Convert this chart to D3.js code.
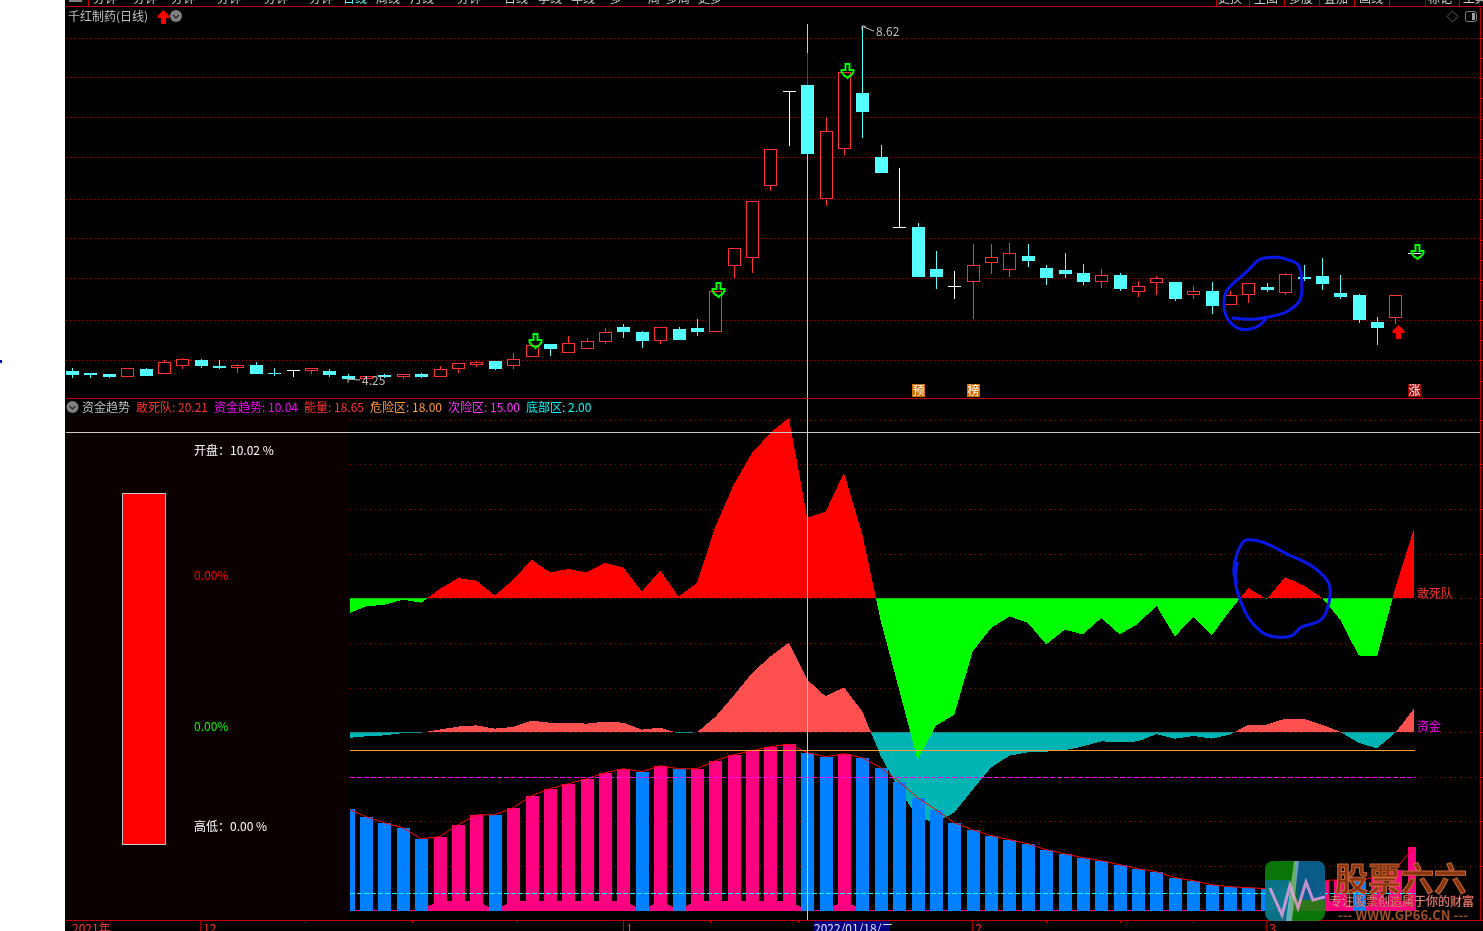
<!DOCTYPE html>
<html>
<head>
<meta charset="utf-8">
<title>千红制药(日线)</title>
<script src="https://cdn.jsdelivr.net/npm/d3@7"></script>
<style>
    html, body { margin: 0; padding: 0; background: #fff; overflow: hidden; }
    svg { display: block; }
    text { font-family: "Noto Sans CJK SC", "Noto Sans", sans-serif; font-size: 12px; }
    .wick { mix-blend-mode: difference; }
</style>
</head>
<body>
<div id="chart"></div>
<script>
// Daily candles (index 0 is the leftmost candle)
const opens = [4.38,4.35,4.34,4.32,4.40,4.35,4.45,4.52,4.44,4.43,4.45,4.36,4.39,4.39,4.38,4.32,4.29,4.33,4.32,4.34,
    4.32,4.42,4.47,4.50,4.45,4.56,4.71,4.61,4.66,4.75,4.92,4.86,4.76,4.90,4.91,4.87,5.68,5.78,6.67,7.82,
    7.90,6.51,7.12,7.80,7.01,6.15,6.15,5.63,5.42,5.49,5.72,5.63,5.79,5.65,5.62,5.58,5.49,5.56,5.36,5.47,
    5.47,5.33,5.36,5.20,5.33,5.41,5.35,5.54,5.55,5.34,5.31,4.98,5.04,5.83];
const closes = [4.34,4.34,4.32,4.42,4.33,4.49,4.53,4.45,4.43,4.45,4.35,4.35,4.39,4.42,4.34,4.29,4.32,4.32,4.34,4.32,
    4.40,4.48,4.49,4.42,4.53,4.70,4.66,4.72,4.75,4.86,4.87,4.76,4.92,4.77,4.87,5.36,5.89,6.47,7.11,7.82,
    7.06,7.33,8.06,7.58,6.83,6.15,5.55,5.55,5.42,5.68,5.78,5.83,5.74,5.54,5.58,5.49,5.56,5.40,5.42,5.52,
    5.28,5.36,5.19,5.31,5.46,5.39,5.57,5.52,5.46,5.30,5.02,4.92,5.31,5.83];
const highs = [4.42,4.35,4.34,4.42,4.42,4.52,4.54,4.53,4.52,4.47,4.49,4.42,4.39,4.42,4.40,4.34,4.32,4.34,4.34,4.35,
    4.44,4.48,4.50,4.50,4.60,4.70,4.71,4.81,4.78,4.91,4.96,4.87,4.92,4.92,5.02,5.36,5.89,6.47,7.11,7.82,
    8.29,7.49,8.06,8.62,7.16,6.88,6.20,5.86,5.61,5.94,5.94,5.95,5.94,5.68,5.83,5.70,5.63,5.58,5.49,5.55,
    5.47,5.42,5.47,5.36,5.46,5.46,5.58,5.68,5.77,5.56,5.33,5.04,5.31,5.83];
const lows = [4.31,4.31,4.31,4.32,4.33,4.35,4.42,4.43,4.42,4.37,4.35,4.33,4.32,4.35,4.32,4.28,4.25,4.31,4.29,4.31,
    4.32,4.37,4.44,4.40,4.42,4.56,4.58,4.61,4.66,4.72,4.80,4.67,4.72,4.77,4.82,4.87,5.54,5.60,6.61,7.16,
    7.06,6.42,7.05,7.26,6.83,6.15,5.55,5.40,5.28,5.03,5.58,5.55,5.67,5.45,5.54,5.45,5.41,5.38,5.30,5.33,
    5.25,5.28,5.09,5.20,5.23,5.36,5.33,5.50,5.39,5.28,4.98,4.71,4.97,5.83];

// Price gridlines
const priceGrid = [8.48,7.99,7.50,7.01,6.50,6.01,5.52,5.01,4.51];

// Signals on the candle pane: [candle index], [price at the arrow tip]
const sellIdx = [25,35,42,73];
const sellPrice = [4.66,5.29,7.98,5.76];
const buyIdx = [72];
const buyPrice = [4.95];

// Small tags just above the lower edge of the candle pane
const tagIdx = [46,49,73];
const tagText = ["预","榜","涨"];

// Indicator series start at candle 15 and run to the last one
const firstIndicatorIdx = 15;
const deathSquad = [-1.74,-0.92,-0.73,-0.17,-0.50,1.03,2.26,1.96,0.31,2.07,4.31,2.89,3.27,2.89,3.94,3.42,0.76,3.08,0.20,1.70,
    8.01,12.71,16.29,18.53,20.21,9.01,9.69,14.05,7.11,-2.52,-10.25,-18.09,-14.28,-13.05,-5.96,-3.34,-2.04,-2.74,-5.17,-3.53,
    -4.05,-2.22,-4.05,-2.86,-0.84,-4.28,-2.11,-4.17,-1.40,1.14,-0.11,2.37,1.43,0.06,-2.41,-6.41,-6.52,1.18,7.75];
const fundTrend = [-0.65,-0.47,-0.36,-0.10,-0.06,0.28,0.62,0.76,0.39,0.58,1.29,1.06,1.06,0.95,1.18,1.06,0.28,0.50,-0.13,-0.02,
    1.70,4.09,6.63,8.49,10.04,5.88,4.01,5.02,2.30,-2.70,-6.44,-9.57,-10.13,-9.00,-6.44,-3.98,-2.63,-2.26,-2.18,-2.04,
    -1.59,-1.03,-1.14,-1.03,-0.22,-0.73,-0.43,-0.73,-0.28,0.84,0.84,1.51,1.51,0.84,0.02,-1.21,-1.81,-0.06,2.60];
const energy = [11.42,10.53,9.85,9.29,8.06,8.29,9.63,10.75,10.75,11.53,12.88,13.66,14.22,14.78,15.45,15.90,15.57,16.24,15.90,15.90,
    16.80,17.47,17.92,18.37,18.65,17.69,17.25,17.58,17.13,16.01,14.45,12.65,11.31,9.85,9.07,8.40,7.95,7.50,6.83,6.38,
    5.94,5.60,5.15,4.70,4.37,3.70,3.36,2.91,2.69,2.58,2.46,2.41,2.91,3.36,3.47,3.36,3.81,4.59,7.17];
// Low band along the foot of the bars: high under the pink bars, almost nothing under the blue ones
const energyBand = [0.1,0.1,0.1,0.1,0.1,1.1,1.1,1.1,0.1,1.1,1.1,1.1,1.1,1.1,1.1,1.1,0.1,1.1,0.1,1.1,
    1.1,1.1,1.1,1.1,1.1,0.1,0.1,1.1,0.1,0.1,0.1,0.1,0.1,0.1,0.1,0.1,0.1,0.1,0.1,0.1,
    0.1,0.1,0.1,0.1,0.1,0.1,0.1,0.1,0.1,0.1,0.1,0.1,1.1,1.1,1.1,0.1,1.1,1.1,1.1];

// Zero lines of the two upper indicators, in indicator units
const deathBase = 35;
const fundBase = 20;
const levelDanger = 18;
const levelNext = 15;
const levelBottom = 2;
const indicatorGrid = [5,10,15,20,25,30,35,40,45,50,55];

// Time axis
const monthIdx = [7,30,49,65];
const monthText = ["12","1","2","3"];
const weekIdx = [12.7,18.5,24.2,34.7,39.5,53,57,61];
const cursorIdx = 40;

// Header texts
const headerItems = [
    ["敢死队: 20.21", "#ff3232", 136],
    ["资金趋势: 10.04", "#ff00ff", 214],
    ["能量: 18.65", "#ff3232", 304],
    ["危险区: 18.00", "#ff9a32", 370],
    ["次险区: 15.00", "#ff32ff", 448],
    ["底部区: 2.00", "#00ffff", 526]
];
const toolbarLeft = [["分钟",105],["分钟",145],["分钟",183],["分钟",229],["分钟",276],["分钟",321],["日线",355,"#54ffff"],["周线",388],["月线",422],["分钟",469],["日线",516],["季线",550],["年线",583],["多",616],["周",654],["多周",678],["更多",710]];
const toolbarRight = [["更换",1230],["主图",1266],["多股",1301],["叠加",1336],["画线",1371],["标记",1440],["工具",1475]];
const toolbarSeparators = [88,1216,1249,1284,1319,1354,1389,1425,1459];

// Hand drawn circles on top of the chart
const circleTop = [[1231.7,318],[1253.3,319.3],[1266.7,317.3],[1286.7,311.7],[1300,300],[1301.7,280],[1298.3,265],[1286.7,259.3],[1276.7,257.3],[1260,259.3],[1246.7,271.7],[1226.7,290.7],[1224,303.3],[1226.7,317.3],[1238.3,328.3],[1248.3,329.3],[1258.3,326],[1266.7,318.3]];
const circleBottom = [[1237.4,561.7],[1235.4,581.7],[1241.4,603.3],[1251.3,621.7],[1267.2,635],[1291,636],[1301,627.3],[1320.9,620],[1328.8,603.3],[1328.8,583.3],[1312.9,566.7],[1289,555],[1261.3,541.7],[1244.6,540.7],[1236.6,555],[1234,573.3],[1237.4,583.3]];

const RED = "#ff3232", CYAN = "#54ffff", WHITE = "#ffffff", LINE_RED = "#c00000";

const svg = d3.select("#chart").append("svg").attr("width", 1483).attr("height", 931);

// Scales. Both panes share the candle index on x
const x = d3.scaleLinear().domain([0, 73]).range([72, 1413.8]);
const yPrice = d3.scaleLinear().domain([4.25, 8.62]).range([381.5, 26.2]);
const yInd = d3.scaleLinear().domain([0, 18]).range([910.7, 750]);
const px = i => Math.round(x(i));
const indX = (d, i) => x(i + firstIndicatorIdx);

// Background
svg.append("rect").attr("x", 65).attr("y", 0).attr("width", 1418).attr("height", 931).attr("fill", "#000");
svg.append("rect").attr("x", 0).attr("y", 360).attr("width", 2).attr("height", 3).attr("fill", "#0000c0");

// Clip regions for the indicator pane
const defs = svg.append("defs");
function addClip(id, y0, y1) {
    defs.append("clipPath").attr("id", id).append("rect")
        .attr("x", 350).attr("y", y0).attr("width", 1130 - 64).attr("height", y1 - y0);
}
addClip("pane", 400, 920);
addClip("deathUp", 400, yInd(deathBase));
addClip("deathDown", yInd(deathBase), 920);
addClip("fundUp", 400, yInd(fundBase));
addClip("fundDown", yInd(fundBase), 920);

// Price gridlines
svg.append("g").selectAll("line").data(priceGrid).enter().append("line")
    .attr("x1", 66).attr("x2", 1480)
    .attr("y1", d => Math.round(yPrice(d)) + 0.5).attr("y2", d => Math.round(yPrice(d)) + 0.5)
    .attr("stroke", "#a00000").attr("stroke-dasharray", "1 3");

// Indicator pane: dark side panel and gridlines
svg.append("rect").attr("x", 66).attr("y", 414).attr("width", 284).attr("height", 506).attr("fill", "#0b0000");
svg.append("g").selectAll("line").data(indicatorGrid).enter().append("line")
    .attr("x1", 350).attr("x2", 1480)
    .attr("y1", d => Math.round(yInd(d)) + 0.5).attr("y2", d => Math.round(yInd(d)) + 0.5)
    .attr("stroke", "#a00000").attr("stroke-dasharray", "1 4");

// Filled areas, one colour above the zero line and another below it
function splitArea(values, base, colorUp, colorDown, clipUp, clipDown) {
    const area = d3.area()
        .x(indX)
        .y0(yInd(base))
        .y1(d => yInd(d + base));
    svg.append("path").attr("d", area(values)).attr("fill", colorUp)
        .attr("clip-path", `url(#${clipUp})`).attr("shape-rendering", "crispEdges");
    svg.append("path").attr("d", area(values)).attr("fill", colorDown)
        .attr("clip-path", `url(#${clipDown})`).attr("shape-rendering", "crispEdges");
}
splitArea(fundTrend, fundBase, "#ff5050", "#00b4b4", "fundUp", "fundDown");
splitArea(deathSquad, deathBase, "#ff0000", "#00ff00", "deathUp", "deathDown");

// Energy: band, bars and the line over their tops
const barsG = svg.append("g").attr("clip-path", "url(#pane)");
const bandArea = d3.area().x(indX).y0(yInd(0)).y1(d => yInd(d));
barsG.append("path").attr("d", bandArea(energyBand)).attr("fill", "#ff0080").attr("shape-rendering", "crispEdges");
barsG.selectAll("rect").data(energy).enter().append("rect")
    .attr("x", (d, i) => px(i + firstIndicatorIdx) - 6)
    .attr("y", d => Math.round(yInd(d)))
    .attr("width", 13)
    .attr("height", d => Math.round(yInd(0)) - Math.round(yInd(d)))
    .attr("fill", (d, i) => energyBand[i] > 1 ? "#ff0080" : "#0080ff");
barsG.append("path")
    .attr("d", d3.line().x(indX).y(d => yInd(d))(energy))
    .attr("fill", "none").attr("stroke", "#ff0000").attr("stroke-width", 1);

// Level lines
function levelLine(value, color, dash) {
    svg.append("line").attr("x1", 350).attr("x2", 1415)
        .attr("y1", Math.round(yInd(value)) + 0.5).attr("y2", Math.round(yInd(value)) + 0.5)
        .attr("stroke", color).attr("stroke-dasharray", dash);
}
levelLine(levelDanger, "#ff9a32", null);
levelLine(levelNext, "#ff00ff", "5 2");
levelLine(levelBottom, "#00ffff", "5 2");

// Series names at the right end of the areas
svg.append("text").attr("x", 1417).attr("y", yInd(deathBase) - 0.5).attr("fill", RED).text("敢死队");
svg.append("text").attr("x", 1417).attr("y", yInd(fundBase) - 1).attr("fill", "#ff00ff").text("资金");

// Crosshair
svg.append("line").attr("x1", px(cursorIdx) + 0.5).attr("x2", px(cursorIdx) + 0.5).attr("y1", 24).attr("y2", 920)
    .attr("stroke", "#c8c8c8");
svg.append("line").attr("x1", 66).attr("x2", 1480).attr("y1", 432.5).attr("y2", 432.5).attr("stroke", "#c8c8c8");

// Candles
const candleData = opens.map((o, i) => ({ i, o, c: closes[i], h: highs[i], l: lows[i] }));
const candleColor = d => d.c > d.o ? RED : d.c < d.o ? CYAN : WHITE;
const candles = svg.append("g").selectAll("g").data(candleData).enter().append("g");
candles.append("line").attr("class", "wick")
    .attr("x1", d => px(d.i) + 0.5).attr("x2", d => px(d.i) + 0.5)
    .attr("y1", d => Math.round(yPrice(d.h))).attr("y2", d => Math.round(yPrice(d.l)) + 1)
    .attr("stroke", candleColor);
candles.filter(d => d.c > d.o).append("rect")
    .attr("x", d => px(d.i) - 5.5).attr("width", 12)
    .attr("y", d => Math.round(yPrice(d.c)) + 0.5)
    .attr("height", d => Math.round(yPrice(d.o)) - Math.round(yPrice(d.c)))
    .attr("fill", "#000").attr("stroke", RED);
candles.filter(d => d.c < d.o).append("rect")
    .attr("x", d => px(d.i) - 6).attr("width", 13)
    .attr("y", d => Math.round(yPrice(d.o)))
    .attr("height", d => Math.max(1, Math.round(yPrice(d.c)) - Math.round(yPrice(d.o)) + 1))
    .attr("fill", CYAN);
candles.filter(d => d.c === d.o).append("line")
    .attr("x1", d => px(d.i) - 6).attr("x2", d => px(d.i) + 7)
    .attr("y1", d => Math.round(yPrice(d.o)) + 0.5).attr("y2", d => Math.round(yPrice(d.o)) + 0.5)
    .attr("stroke", WHITE);

// Signal arrows
const sellArrow = "M0,0 L-2,-2 L-3,-2 L-6,-6 L-6,-8 L-2,-8 L-2,-14 L2,-14 L2,-8 L6,-8 L6,-6 L3,-2 L2,-2 Z";
const buyArrow = "M0,0 L6,6 L6,8 L2.5,8 L2.5,14 L-2.5,14 L-2.5,8 L-6,8 L-6,6 Z";
svg.append("g").selectAll("path").data(sellIdx).enter().append("path")
    .attr("transform", (d, k) => `translate(${px(d) + 3.5},${Math.round(yPrice(sellPrice[k]))})`)
    .attr("d", sellArrow).attr("fill", "none").attr("stroke", "#00ff00").attr("stroke-width", 2);
svg.append("g").selectAll("path").data(buyIdx).enter().append("path")
    .attr("transform", (d, k) => `translate(${px(d) + 3.5},${Math.round(yPrice(buyPrice[k]))})`)
    .attr("d", buyArrow).attr("fill", "#ff0000");

// High and low labels
function extremeLabel(idx, price, text, dy) {
    const tipX = px(idx), tipY = yPrice(price);
    svg.append("path")
        .attr("d", `M${tipX},${tipY} l12,${dy} M${tipX},${tipY} l4,0 M${tipX},${tipY} l0,4`)
        .attr("fill", "none").attr("stroke", "#c0c0c0");
    svg.append("text").attr("x", tipX + 14).attr("y", tipY + dy + 5).attr("fill", "#c0c0c0").text(text);
}
extremeLabel(43, 8.62, "8.62", 5);
extremeLabel(15, 4.28, "4.25", 1);

// Tags
const tags = svg.append("g").selectAll("g").data(tagIdx).enter().append("g");
tags.append("rect")
    .attr("x", d => px(d) - 6).attr("y", 384).attr("width", 13).attr("height", 13)
    .attr("fill", d => d === 73 ? "#a00000" : "#d07000");
tags.append("text")
    .attr("x", d => px(d) + 0.5).attr("y", 395).attr("text-anchor", "middle")
    .attr("fill", "#fff").text((d, k) => tagText[k]);

// Hand drawn circles
const circleLine = d3.line().curve(d3.curveCatmullRom);
[circleTop, circleBottom].forEach(points => {
    svg.append("path").attr("d", circleLine(points))
        .attr("fill", "none").attr("stroke", "#0818e8").attr("stroke-width", 3);
});

// Pane frame
function hLine(y, x1, x2) {
    svg.append("line").attr("x1", x1).attr("x2", x2).attr("y1", y).attr("y2", y).attr("stroke", LINE_RED);
}
hLine(6.5, 65, 1483);
hLine(398.5, 65, 1480);
hLine(920.5, 65, 1483);
svg.append("line").attr("x1", 1480.5).attr("x2", 1480.5).attr("y1", 7).attr("y2", 920).attr("stroke", LINE_RED);

// Value ticks right of the frame
const rightTicks = d3.range(priceGrid.length * 2).map(k => 38 + k * 20.15);
svg.append("g").selectAll("line").data(rightTicks).enter().append("line")
    .attr("x1", 1481).attr("x2", 1483)
    .attr("y1", d => Math.round(d) + 0.5).attr("y2", d => Math.round(d) + 0.5)
    .attr("stroke", LINE_RED);
svg.append("g").selectAll("line").data(indicatorGrid).enter().append("line")
    .attr("x1", 1481).attr("x2", 1483)
    .attr("y1", d => Math.round(yInd(d)) + 0.5).attr("y2", d => Math.round(yInd(d)) + 0.5)
    .attr("stroke", LINE_RED);

// Toolbar, only the foot of it is inside the window
svg.append("rect").attr("x", 69).attr("y", 0).attr("width", 13).attr("height", 2).attr("fill", "#808080");
toolbarSeparators.forEach(sx => {
    svg.append("line").attr("x1", sx + 0.5).attr("x2", sx + 0.5).attr("y1", 0).attr("y2", 6).attr("stroke", LINE_RED);
});
toolbarLeft.concat(toolbarRight).forEach(t => {
    svg.append("text").attr("x", t[1]).attr("y", 3).attr("text-anchor", "middle")
        .attr("fill", t[2] || "#d0d0d0").text(t[0]);
});

// Candle pane header
svg.append("text").attr("x", 68).attr("y", 21).attr("fill", "#c0c0c0").text("千红制药(日线)");
svg.append("path").attr("transform", "translate(163.5,10)").attr("d", buyArrow).attr("fill", "#ff0000");
function roundIcon(cx, cy) {
    svg.append("circle").attr("cx", cx).attr("cy", cy).attr("r", 6).attr("fill", "#808080");
    svg.append("path").attr("d", `M${cx - 3},${cy - 1} l3,3 l3,-3`).attr("fill", "none").attr("stroke", "#303030").attr("stroke-width", 1.5);
}
roundIcon(176, 16);
svg.append("path").attr("d", "M1452.5,11 l5.5,5.5 l-5.5,5.5 l-5.5,-5.5 Z").attr("fill", "none").attr("stroke", "#606060");
svg.append("rect").attr("x", 1465.5).attr("y", 11.5).attr("width", 11).attr("height", 10).attr("rx", 2).attr("fill", "none").attr("stroke", "#808080");
svg.append("rect").attr("x", 1472).attr("y", 13).attr("width", 3).attr("height", 7).attr("fill", "#a0a0a0");

// Indicator header
roundIcon(72.5, 407);
svg.append("text").attr("x", 82).attr("y", 412).attr("fill", "#c0c0c0").text("资金趋势");
headerItems.forEach(t => {
    svg.append("text").attr("x", t[2]).attr("y", 412).attr("fill", t[1]).text(t[0]);
});

// Side panel gauge and texts
svg.append("rect").attr("x", 122.5).attr("y", 493.5).attr("width", 43).attr("height", 351)
    .attr("fill", "#ff0000").attr("stroke", "#c8c8c8");
svg.append("text").attr("x", 194).attr("y", 455).attr("fill", "#fff").text("开盘：10.02 %");
svg.append("text").attr("x", 194).attr("y", 580).attr("fill", "#ff0000").text("0.00%");
svg.append("text").attr("x", 194).attr("y", 731).attr("fill", "#00ff00").text("0.00%");
svg.append("text").attr("x", 194).attr("y", 831).attr("fill", "#fff").text("高低：0.00 %");

// Time axis
const axis = svg.append("g").attr("transform", "translate(0,921)")
    .call(d3.axisBottom(x).tickValues(monthIdx).tickSize(10).tickFormat((d, k) => monthText[k]));
axis.select(".domain").remove();
axis.selectAll("line").attr("stroke", LINE_RED).attr("transform", "translate(-0.5,0)");
axis.selectAll("text").attr("x", 2).attr("y", 12).attr("dy", 0).attr("text-anchor", "start").attr("fill", RED)
    .style("font-size", "12px").style("font-family", '"Noto Sans CJK SC"');
svg.append("g").selectAll("line").data(weekIdx).enter().append("line")
    .attr("x1", d => Math.round(x(d)) + 0.5).attr("x2", d => Math.round(x(d)) + 0.5)
    .attr("y1", 921).attr("y2", 923).attr("stroke", LINE_RED);
svg.append("text").attr("x", 72).attr("y", 933).attr("fill", RED).text("2021年");
svg.append("rect").attr("x", 813).attr("y", 921).attr("width", 77).attr("height", 10).attr("fill", "#000080");
svg.append("text").attr("x", 814).attr("y", 933).attr("fill", "#e0e0ff").text("2022/01/18/二");

// Watermark
const mark = svg.append("g");
defs.append("clipPath").attr("id", "markClip").append("rect")
    .attr("x", 1265).attr("y", 861).attr("width", 60).attr("height", 60).attr("rx", 8);
const markIcon = mark.append("g").attr("clip-path", "url(#markClip)");
markIcon.append("rect").attr("x", 1265).attr("y", 861).attr("width", 60).attr("height", 60).attr("fill", "#0a8a0a").attr("opacity", 0.85);
markIcon.append("path").attr("d", "M1295,861 L1325,861 L1325,900 L1297,900 Z").attr("fill", "#0a5a96").attr("opacity", 0.9);
markIcon.append("path").attr("d", "M1265,880 L1290,880 L1291,921 L1265,921 Z").attr("fill", "#0a70d8").attr("opacity", 0.6);
markIcon.append("path").attr("d", "M1294,861 L1299,861 L1292,921 L1286,921 Z").attr("fill", "#fff").attr("opacity", 0.4);
markIcon.append("path").attr("d", "M1270,888 L1282,915 L1290,885 L1298,908 L1306,882 L1313,900 L1325,897")
    .attr("fill", "none").attr("stroke", "#f0a0e0").attr("stroke-width", 3).attr("opacity", 0.8);
mark.append("text").attr("x", 1335).attr("y", 891).attr("fill", "#8a3410").attr("stroke", "#c8683c").attr("stroke-width", 1)
    .style("font-size", "33px").style("font-weight", "bold").text("股票六六");
mark.append("text").attr("x", 1330).attr("y", 906).attr("fill", "#d8d8d8").attr("stroke", "#c03020").attr("stroke-width", 0.4).text("专注股票创造属于你的财富");
mark.append("text").attr("x", 1338).attr("y", 920).attr("fill", "#a05028").style("font-weight", "bold").style("font-size", "13px").text("--- WWW.GP66.CN ---");
</script>
</body>
</html>
